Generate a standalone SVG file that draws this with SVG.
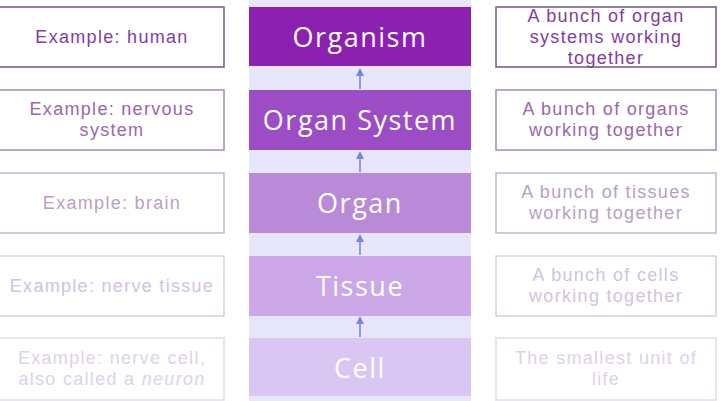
<svg xmlns="http://www.w3.org/2000/svg" width="720" height="401" viewBox="0 0 720 401">
<defs>
<style>
.lb{fill:#ffffff;stroke-width:1.6}
.t{font-family:"Liberation Sans",Arial,sans-serif;font-size:18px;text-anchor:middle;letter-spacing:1.3px}
.c{font-family:"Open Sans","Liberation Sans",sans-serif;font-size:27px;text-anchor:middle;fill:#ffffff;letter-spacing:1.5px}
.con{stroke:#7b86d6;stroke-width:1.6;fill:none}
</style>
<marker id="ah" viewBox="0 0 8 8" refX="4" refY="4" markerWidth="5" markerHeight="5" orient="auto">
<path d="M0,0 L8,4 L0,8 z" fill="#7b86d6"/>
</marker>
</defs>
<rect width="720" height="401" fill="#ffffff"/>
<rect x="249" y="0" width="222" height="401" fill="#e8e6fa"/>

<g id="row1">
<rect class="lb" x="-1" y="7" width="225" height="60" stroke="#7c5e8e"/>
<text class="t" x="112" y="43" fill="#823e9c">Example: human</text>
<rect x="249" y="7" width="222" height="59" fill="#8c20b0"/>
<text class="c" x="360" y="47">Organism</text>
<rect class="lb" x="496" y="7" width="220" height="60" stroke="#7c5e8e"/>
<text class="t" x="606" y="22" fill="#823e9c">A bunch of organ</text>
<text class="t" x="606" y="43" fill="#823e9c">systems working</text>
<text class="t" x="606" y="64" fill="#823e9c">together</text>
</g>

<g id="row2">
<rect class="lb" x="-1" y="90" width="225" height="60" stroke="#a890b6"/>
<text class="t" x="112" y="115" fill="#9a66b0">Example: nervous</text>
<text class="t" x="112" y="136" fill="#9a66b0">system</text>
<rect x="249" y="90" width="222" height="60" fill="#9c4cc4"/>
<text class="c" x="360" y="130">Organ System</text>
<rect class="lb" x="496" y="90" width="220" height="60" stroke="#a890b6"/>
<text class="t" x="606" y="115" fill="#9a66b0">A bunch of organs</text>
<text class="t" x="606" y="136" fill="#9a66b0">working together</text>
</g>

<g id="row3">
<rect class="lb" x="-1" y="173" width="225" height="60" stroke="#c8bad2"/>
<text class="t" x="112" y="209" fill="#b79fc6">Example: brain</text>
<rect x="249" y="173" width="222" height="60" fill="#b88ad8"/>
<text class="c" x="360" y="213">Organ</text>
<rect class="lb" x="496" y="173" width="220" height="60" stroke="#c8bad2"/>
<text class="t" x="606" y="198" fill="#b79fc6">A bunch of tissues</text>
<text class="t" x="606" y="219" fill="#b79fc6">working together</text>
</g>

<g id="row4">
<rect class="lb" x="-1" y="256" width="225" height="60" stroke="#dcd0e4"/>
<text class="t" x="112" y="292" fill="#d2c2de">Example: nerve tissue</text>
<rect x="249" y="256" width="222" height="60" fill="#cca8e8"/>
<text class="c" x="360" y="296">Tissue</text>
<rect class="lb" x="496" y="256" width="220" height="60" stroke="#dcd0e4"/>
<text class="t" x="606" y="281" fill="#d2c2de">A bunch of cells</text>
<text class="t" x="606" y="302" fill="#d2c2de">working together</text>
</g>

<g id="row5">
<rect class="lb" x="-1" y="338" width="225" height="62" stroke="#e6dcee"/>
<text class="t" x="112" y="364" fill="#ded2e8">Example: nerve cell,</text>
<text class="t" x="112" y="385" fill="#ded2e8">also called a <tspan font-style="italic">neuron</tspan></text>
<rect x="249" y="338" width="222" height="58" fill="#d9c6f2"/>
<text class="c" x="360" y="378">Cell</text>
<rect class="lb" x="496" y="338" width="220" height="62" stroke="#e6dcee"/>
<text class="t" x="606" y="364" fill="#ded2e8">The smallest unit of</text>
<text class="t" x="606" y="385" fill="#ded2e8">life</text>
</g>

<g id="connectors">
<line class="con" x1="360" y1="89" x2="360" y2="72" marker-end="url(#ah)"/>
<line class="con" x1="360" y1="172" x2="360" y2="155" marker-end="url(#ah)"/>
<line class="con" x1="360" y1="255" x2="360" y2="238" marker-end="url(#ah)"/>
<line class="con" x1="360" y1="337" x2="360" y2="320" marker-end="url(#ah)"/>
</g>
</svg>
